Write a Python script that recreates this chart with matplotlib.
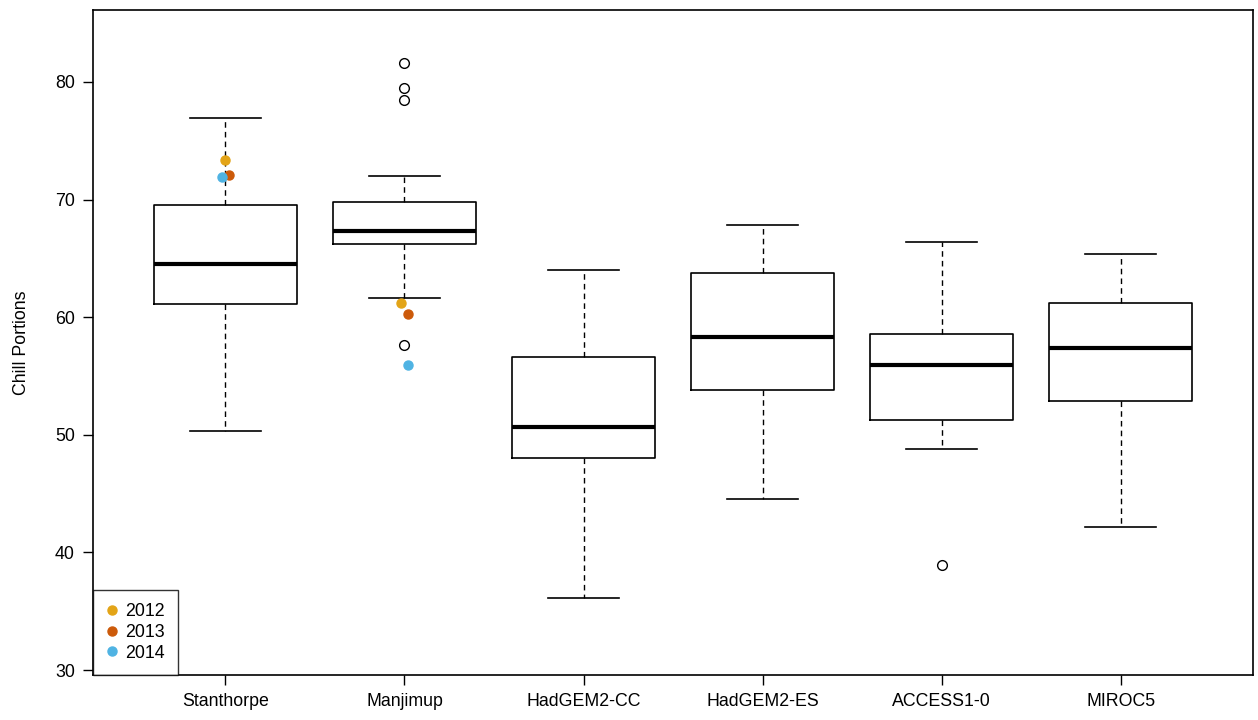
import matplotlib
matplotlib.use("Agg")
from matplotlib import pyplot as plt
from matplotlib.lines import Line2D

plt.rcParams['font.family'] = ['Liberation Sans', 'DejaVu Sans']

# box statistics
sites = ['Stanthorpe', 'Manjimup', 'HadGEM2-CC', 'HadGEM2-ES', 'ACCESS1-0', 'MIROC5']
whis_lo = [50.3, 61.6, 36.1, 44.5, 48.8, 42.2]
q1 = [61.1, 66.2, 48.0, 53.8, 51.3, 52.9]
med = [64.5, 67.3, 50.7, 58.3, 55.9, 57.4]
q3 = [69.5, 69.8, 56.6, 63.8, 58.6, 61.2]
whis_hi = [76.9, 72.0, 64.0, 67.8, 66.4, 65.4]
outliers = [[], [81.6, 79.5, 78.5, 57.6], [], [], [38.9], []]

# observed years (site index, value, small horizontal jitter)
years = ['2012', '2013', '2014']
year_colors = ['#E3A417', '#CC5A0A', '#4FB3E3']
obs_site = [[0, 1], [0, 1], [0, 1]]
obs_value = [[73.4, 61.2], [72.1, 60.3], [71.9, 55.9]]
obs_jitter = [[0.0, -0.02], [0.02, 0.02], [-0.02, 0.02]]

stats = []
for i in range(len(sites)):
    stats.append({'label': sites[i], 'whislo': whis_lo[i], 'q1': q1[i], 'med': med[i],
                  'q3': q3[i], 'whishi': whis_hi[i], 'fliers': outliers[i]})

fig = plt.figure(figsize=(12.58, 7.2), dpi=100)
ax = fig.add_axes([0.0739, 0.0625, 0.9222, 0.9236])

pos = list(range(1, len(sites) + 1))
ax.bxp(stats, positions=pos, widths=0.8, capwidths=0.4, showfliers=True,
       boxprops=dict(color='black', linewidth=1.2),
       medianprops=dict(color='black', linewidth=3.0),
       whiskerprops=dict(color='black', linewidth=1.0, linestyle=(0, (4, 3))),
       capprops=dict(color='black', linewidth=1.2),
       flierprops=dict(marker='o', markersize=7, markerfacecolor='none',
                       markeredgecolor='black', markeredgewidth=1.0))

handles = []
for k in range(len(years)):
    xs = [obs_site[k][j] + 1 + obs_jitter[k][j] for j in range(len(obs_site[k]))]
    ax.plot(xs, obs_value[k], 'o', color=year_colors[k], markersize=6.5, zorder=5)
    handles.append(Line2D([], [], marker='o', linestyle='none', color=year_colors[k],
                          markersize=6.5, label=years[k]))

ax.set_xlim(0.26, 6.74)
ax.set_ylim(29.575, 86.12)
ax.set_yticks([30, 40, 50, 60, 70, 80])
ax.set_xticks(pos)
ax.set_xticklabels(sites)
ax.tick_params(axis='both', labelsize=12.8, length=7, width=1.0, pad=6)
ax.set_ylabel('Chill Portions', fontsize=12.8, labelpad=18)
for sp in ax.spines.values():
    sp.set_linewidth(1.2)

leg = ax.legend(handles=handles, loc='lower left', borderaxespad=0, fontsize=12.8,
                frameon=True, fancybox=False, handletextpad=0.45, handlelength=0.6,
                labelspacing=0.22, borderpad=0.75)
leg.get_frame().set_edgecolor('black')
leg.get_frame().set_linewidth(1.0)

fig.savefig('out.png', dpi=100)
